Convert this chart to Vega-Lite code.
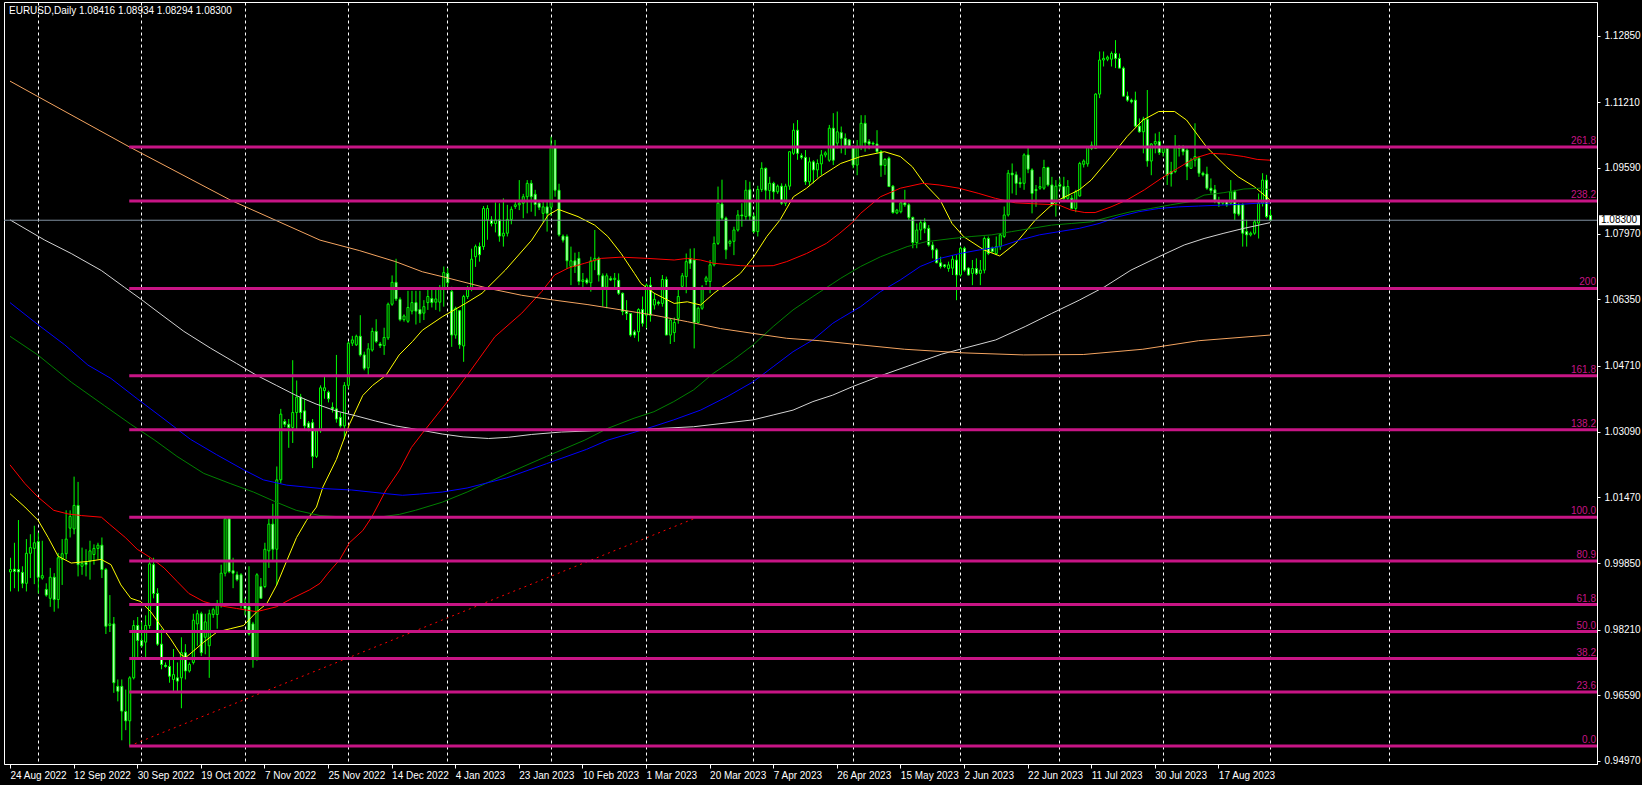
{
"$schema": "https://vega.github.io/schema/vega-lite/v6.json",
"width": 1593, "height": 762,
"autosize": {"type": "none"},
"padding": {"left": 4, "top": 2, "right": 45, "bottom": 21},
"background": "black",
"config": {"view": {"stroke": "white", "strokeWidth": 1}, "font": "Liberation Sans"},
"datasets": {
"bars": [
{"i":0,"o":0.9963,"h":0.9998,"l":0.9915,"c":0.9969},{"i":1,"o":0.9970,"h":1.0035,"l":0.9923,"c":0.9964},{"i":2,"o":0.9969,"h":1.0091,"l":0.9915,"c":0.9963},{"i":3,"o":0.9962,"h":0.9977,"l":0.9923,"c":0.9935},{"i":4,"o":0.9935,"h":1.0044,"l":0.9915,"c":1.0009},{"i":5,"o":1.0009,"h":1.0056,"l":0.9948,"c":1.0023},{"i":6,"o":1.0021,"h":1.0077,"l":0.9933,"c":1.0035},{"i":7,"o":1.0038,"h":1.0060,"l":0.9910,"c":0.9950},{"i":8,"o":0.9948,"h":1.0040,"l":0.9944,"c":0.9954},{"i":9,"o":0.9920,"h":0.9935,"l":0.9902,"c":0.9906},
{"i":10,"o":0.9898,"h":0.9973,"l":0.9877,"c":0.9950},{"i":11,"o":0.9950,"h":0.9960,"l":0.9865,"c":0.9895},{"i":12,"o":0.9895,"h":1.0010,"l":0.9873,"c":0.9998},{"i":13,"o":0.9994,"h":1.0044,"l":0.9931,"c":1.0008},{"i":14,"o":1.0008,"h":1.0115,"l":0.9994,"c":1.0044},{"i":15,"o":1.0071,"h":1.0115,"l":1.0048,"c":1.0100},{"i":16,"o":1.0069,"h":1.0198,"l":1.0056,"c":1.0127},{"i":17,"o":1.0127,"h":1.0185,"l":0.9952,"c":0.9981},{"i":18,"o":0.9977,"h":1.0023,"l":0.9956,"c":0.9984},{"i":19,"o":0.9987,"h":1.0019,"l":0.9952,"c":0.9981},
{"i":20,"o":0.9990,"h":1.0040,"l":0.9944,"c":1.0015},{"i":21,"o":1.0006,"h":1.0031,"l":0.9981,"c":1.0021},{"i":22,"o":1.0021,"h":1.0035,"l":0.9994,"c":1.0029},{"i":23,"o":1.0029,"h":1.0048,"l":0.9948,"c":0.9969},{"i":24,"o":0.9969,"h":0.9973,"l":0.9810,"c":0.9829},{"i":25,"o":0.9831,"h":0.9906,"l":0.9815,"c":0.9835},{"i":26,"o":0.9835,"h":0.9852,"l":0.9665,"c":0.9690},{"i":27,"o":0.9681,"h":0.9698,"l":0.9644,"c":0.9669},{"i":28,"o":0.9681,"h":0.9698,"l":0.9548,"c":0.9620},{"i":29,"o":0.9619,"h":0.9673,"l":0.9573,"c":0.9596},
{"i":30,"o":0.9596,"h":0.9706,"l":0.9534,"c":0.9702},{"i":31,"o":0.9702,"h":0.9844,"l":0.9698,"c":0.9831},{"i":32,"o":0.9831,"h":0.9852,"l":0.9752,"c":0.9794},{"i":33,"o":0.9794,"h":0.9840,"l":0.9777,"c":0.9781},{"i":34,"o":0.9790,"h":0.9856,"l":0.9752,"c":0.9831},{"i":35,"o":0.9831,"h":0.9998,"l":0.9823,"c":0.9983},{"i":36,"o":0.9981,"h":0.9998,"l":0.9898,"c":0.9910},{"i":37,"o":0.9910,"h":0.9923,"l":0.9781,"c":0.9785},{"i":38,"o":0.9785,"h":0.9823,"l":0.9723,"c":0.9735},{"i":39,"o":0.9733,"h":0.9740,"l":0.9727,"c":0.9730},
{"i":40,"o":0.9730,"h":0.9748,"l":0.9690,"c":0.9706},{"i":41,"o":0.9698,"h":0.9773,"l":0.9669,"c":0.9710},{"i":42,"o":0.9702,"h":0.9740,"l":0.9665,"c":0.9694},{"i":43,"o":0.9702,"h":0.9802,"l":0.9627,"c":0.9764},{"i":44,"o":0.9764,"h":0.9785,"l":0.9698,"c":0.9719},{"i":45,"o":0.9719,"h":0.9740,"l":0.9715,"c":0.9735},{"i":46,"o":0.9740,"h":0.9860,"l":0.9735,"c":0.9844},{"i":47,"o":0.9835,"h":0.9869,"l":0.9781,"c":0.9860},{"i":48,"o":0.9860,"h":0.9865,"l":0.9756,"c":0.9764},{"i":49,"o":0.9802,"h":0.9860,"l":0.9760,"c":0.9840},
{"i":50,"o":0.9781,"h":0.9870,"l":0.9702,"c":0.9860},{"i":51,"o":0.9858,"h":0.9875,"l":0.9850,"c":0.9870},{"i":52,"o":0.9858,"h":0.9894,"l":0.9823,"c":0.9885},{"i":53,"o":0.9883,"h":0.9981,"l":0.9875,"c":0.9960},{"i":54,"o":0.9960,"h":1.0098,"l":0.9952,"c":1.0094},{"i":55,"o":1.0094,"h":1.0098,"l":0.9960,"c":0.9964},{"i":56,"o":0.9966,"h":0.9998,"l":0.9923,"c":0.9960},{"i":57,"o":0.9956,"h":0.9964,"l":0.9940,"c":0.9944},{"i":58,"o":0.9956,"h":0.9960,"l":0.9873,"c":0.9883},{"i":59,"o":0.9885,"h":0.9898,"l":0.9856,"c":0.9873},
{"i":60,"o":0.9877,"h":0.9977,"l":0.9806,"c":0.9810},{"i":61,"o":0.9835,"h":0.9840,"l":0.9727,"c":0.9748},{"i":62,"o":0.9748,"h":0.9960,"l":0.9744,"c":0.9956},{"i":63,"o":0.9927,"h":0.9948,"l":0.9898,"c":0.9898},{"i":64,"o":0.9927,"h":1.0035,"l":0.9923,"c":1.0019},{"i":65,"o":1.0015,"h":1.0094,"l":0.9973,"c":1.0081},{"i":66,"o":1.0081,"h":1.0131,"l":0.9990,"c":1.0019},{"i":67,"o":1.0019,"h":1.0223,"l":0.9931,"c":1.0190},{"i":68,"o":1.0190,"h":1.0365,"l":1.0181,"c":1.0352},{"i":69,"o":1.0334,"h":1.0340,"l":1.0320,"c":1.0327},
{"i":70,"o":1.0327,"h":1.0340,"l":1.0269,"c":1.0319},{"i":71,"o":1.0319,"h":1.0485,"l":1.0281,"c":1.0356},{"i":72,"o":1.0356,"h":1.0435,"l":1.0315,"c":1.0394},{"i":73,"o":1.0394,"h":1.0402,"l":1.0340,"c":1.0356},{"i":74,"o":1.0360,"h":1.0390,"l":1.0311,"c":1.0323},{"i":75,"o":1.0330,"h":1.0335,"l":1.0310,"c":1.0319},{"i":76,"o":1.0331,"h":1.0340,"l":1.0219,"c":1.0248},{"i":77,"o":1.0248,"h":1.0311,"l":1.0244,"c":1.0311},{"i":78,"o":1.0311,"h":1.0423,"l":1.0306,"c":1.0417},{"i":79,"o":1.0410,"h":1.0448,"l":1.0390,"c":1.0417},
{"i":80,"o":1.0406,"h":1.0410,"l":1.0381,"c":1.0390},{"i":81,"o":1.0369,"h":1.0381,"l":1.0356,"c":1.0365},{"i":82,"o":1.0365,"h":1.0498,"l":1.0331,"c":1.0340},{"i":83,"o":1.0344,"h":1.0356,"l":1.0319,"c":1.0323},{"i":84,"o":1.0323,"h":1.0431,"l":1.0290,"c":1.0423},{"i":85,"o":1.0423,"h":1.0531,"l":1.0415,"c":1.0527},{"i":86,"o":1.0527,"h":1.0545,"l":1.0520,"c":1.0535},{"i":87,"o":1.0523,"h":1.0548,"l":1.0520,"c":1.0544},{"i":88,"o":1.0544,"h":1.0596,"l":1.0494,"c":1.0498},{"i":89,"o":1.0498,"h":1.0506,"l":1.0460,"c":1.0465},
{"i":90,"o":1.0466,"h":1.0527,"l":1.0444,"c":1.0513},{"i":91,"o":1.0510,"h":1.0565,"l":1.0506,"c":1.0556},{"i":92,"o":1.0556,"h":1.0586,"l":1.0527,"c":1.0531},{"i":93,"o":1.0525,"h":1.0530,"l":1.0515,"c":1.0521},{"i":94,"o":1.0521,"h":1.0565,"l":1.0498,"c":1.0541},{"i":95,"o":1.0540,"h":1.0627,"l":1.0535,"c":1.0623},{"i":96,"o":1.0623,"h":1.0694,"l":1.0619,"c":1.0677},{"i":97,"o":1.0677,"h":1.0735,"l":1.0631,"c":1.0636},{"i":98,"o":1.0635,"h":1.0640,"l":1.0581,"c":1.0585},{"i":99,"o":1.0585,"h":1.0598,"l":1.0580,"c":1.0594},
{"i":100,"o":1.0581,"h":1.0656,"l":1.0577,"c":1.0615},{"i":101,"o":1.0606,"h":1.0656,"l":1.0598,"c":1.0627},{"i":102,"o":1.0627,"h":1.0656,"l":1.0573,"c":1.0606},{"i":103,"o":1.0610,"h":1.0656,"l":1.0577,"c":1.0599},{"i":104,"o":1.0601,"h":1.0633,"l":1.0584,"c":1.0617},{"i":105,"o":1.0627,"h":1.0658,"l":1.0609,"c":1.0642},{"i":106,"o":1.0637,"h":1.0660,"l":1.0615,"c":1.0627},{"i":107,"o":1.0628,"h":1.0658,"l":1.0609,"c":1.0636},{"i":108,"o":1.0628,"h":1.0670,"l":1.0605,"c":1.0662},{"i":109,"o":1.0662,"h":1.0716,"l":1.0617,"c":1.0701},
{"i":110,"o":1.0699,"h":1.0712,"l":1.0666,"c":1.0676},{"i":111,"o":1.0654,"h":1.0666,"l":1.0518,"c":1.0547},{"i":112,"o":1.0547,"h":1.0617,"l":1.0538,"c":1.0613},{"i":113,"o":1.0607,"h":1.0609,"l":1.0513,"c":1.0523},{"i":114,"o":1.0520,"h":1.0646,"l":1.0481,"c":1.0642},{"i":115,"o":1.0642,"h":1.0668,"l":1.0636,"c":1.0662},{"i":116,"o":1.0662,"h":1.0760,"l":1.0655,"c":1.0734},{"i":117,"o":1.0740,"h":1.0770,"l":1.0715,"c":1.0765},{"i":118,"o":1.0765,"h":1.0775,"l":1.0728,"c":1.0745},{"i":119,"o":1.0765,"h":1.0865,"l":1.0757,"c":1.0859},
{"i":120,"o":1.0831,"h":1.0867,"l":1.0782,"c":1.0859},{"i":121,"o":1.0831,"h":1.0840,"l":1.0815,"c":1.0822},{"i":122,"o":1.0822,"h":1.0874,"l":1.0800,"c":1.0831},{"i":123,"o":1.0831,"h":1.0872,"l":1.0777,"c":1.0791},{"i":124,"o":1.0791,"h":1.0884,"l":1.0765,"c":1.0798},{"i":125,"o":1.0798,"h":1.0868,"l":1.0790,"c":1.0832},{"i":126,"o":1.0832,"h":1.0864,"l":1.0820,"c":1.0857},{"i":127,"o":1.0864,"h":1.0875,"l":1.0858,"c":1.0868},{"i":128,"o":1.0868,"h":1.0929,"l":1.0855,"c":1.0872},{"i":129,"o":1.0872,"h":1.0895,"l":1.0835,"c":1.0888},
{"i":130,"o":1.0888,"h":1.0929,"l":1.0847,"c":1.0921},{"i":131,"o":1.0921,"h":1.0929,"l":1.0851,"c":1.0888},{"i":132,"o":1.0894,"h":1.0905,"l":1.0840,"c":1.0869},{"i":133,"o":1.0872,"h":1.0880,"l":1.0855,"c":1.0862},{"i":134,"o":1.0847,"h":1.0880,"l":1.0826,"c":1.0863},{"i":135,"o":1.0863,"h":1.0880,"l":1.0802,"c":1.0847},{"i":136,"o":1.0862,"h":1.1036,"l":1.0840,"c":1.1011},{"i":137,"o":1.1011,"h":1.1028,"l":1.0888,"c":1.0904},{"i":138,"o":1.0904,"h":1.0920,"l":1.0790,"c":1.0794},{"i":139,"o":1.0791,"h":1.0795,"l":1.0775,"c":1.0781},
{"i":140,"o":1.0790,"h":1.0795,"l":1.0710,"c":1.0730},{"i":141,"o":1.0716,"h":1.0765,"l":1.0670,"c":1.0730},{"i":142,"o":1.0730,"h":1.0750,"l":1.0700,"c":1.0716},{"i":143,"o":1.0736,"h":1.0752,"l":1.0670,"c":1.0679},{"i":144,"o":1.0679,"h":1.0700,"l":1.0660,"c":1.0683},{"i":145,"o":1.0683,"h":1.0688,"l":1.0672,"c":1.0676},{"i":146,"o":1.0676,"h":1.0740,"l":1.0654,"c":1.0730},{"i":147,"o":1.0730,"h":1.0806,"l":1.0707,"c":1.0736},{"i":148,"o":1.0736,"h":1.0740,"l":1.0679,"c":1.0695},{"i":149,"o":1.0693,"h":1.0699,"l":1.0617,"c":1.0665},
{"i":150,"o":1.0665,"h":1.0699,"l":1.0613,"c":1.0693},{"i":151,"o":1.0686,"h":1.0692,"l":1.0680,"c":1.0683},{"i":152,"o":1.0684,"h":1.0700,"l":1.0660,"c":1.0687},{"i":153,"o":1.0682,"h":1.0699,"l":1.0646,"c":1.0650},{"i":154,"o":1.0650,"h":1.0652,"l":1.0596,"c":1.0605},{"i":155,"o":1.0606,"h":1.0633,"l":1.0584,"c":1.0600},{"i":156,"o":1.0600,"h":1.0600,"l":1.0543,"c":1.0547},{"i":157,"o":1.0555,"h":1.0560,"l":1.0540,"c":1.0547},{"i":158,"o":1.0555,"h":1.0613,"l":1.0531,"c":1.0610},{"i":159,"o":1.0610,"h":1.0642,"l":1.0568,"c":1.0576},
{"i":160,"o":1.0596,"h":1.0674,"l":1.0564,"c":1.0670},{"i":161,"o":1.0670,"h":1.0690,"l":1.0580,"c":1.0596},{"i":162,"o":1.0621,"h":1.0650,"l":1.0610,"c":1.0635},{"i":163,"o":1.0628,"h":1.0632,"l":1.0620,"c":1.0625},{"i":164,"o":1.0625,"h":1.0695,"l":1.0617,"c":1.0684},{"i":165,"o":1.0684,"h":1.0691,"l":1.0547,"c":1.0547},{"i":166,"o":1.0547,"h":1.0588,"l":1.0525,"c":1.0584},{"i":167,"o":1.0553,"h":1.0590,"l":1.0530,"c":1.0578},{"i":168,"o":1.0588,"h":1.0660,"l":1.0575,"c":1.0642},{"i":169,"o":1.0667,"h":1.0700,"l":1.0660,"c":1.0693},
{"i":170,"o":1.0691,"h":1.0748,"l":1.0650,"c":1.0728},{"i":171,"o":1.0736,"h":1.0760,"l":1.0710,"c":1.0724},{"i":172,"o":1.0732,"h":1.0761,"l":1.0514,"c":1.0578},{"i":173,"o":1.0578,"h":1.0617,"l":1.0576,"c":1.0613},{"i":174,"o":1.0613,"h":1.0670,"l":1.0609,"c":1.0665},{"i":175,"o":1.0679,"h":1.0693,"l":1.0670,"c":1.0688},{"i":176,"o":1.0679,"h":1.0732,"l":1.0650,"c":1.0720},{"i":177,"o":1.0720,"h":1.0790,"l":1.0716,"c":1.0773},{"i":178,"o":1.0773,"h":1.0913,"l":1.0769,"c":1.0872},{"i":179,"o":1.0870,"h":1.0930,"l":1.0830,"c":1.0835},
{"i":180,"o":1.0835,"h":1.0839,"l":1.0734,"c":1.0757},{"i":181,"o":1.0773,"h":1.0782,"l":1.0765,"c":1.0778},{"i":182,"o":1.0778,"h":1.0814,"l":1.0744,"c":1.0806},{"i":183,"o":1.0806,"h":1.0855,"l":1.0802,"c":1.0843},{"i":184,"o":1.0843,"h":1.0872,"l":1.0814,"c":1.0841},{"i":185,"o":1.0839,"h":1.0929,"l":1.0831,"c":1.0904},{"i":186,"o":1.0905,"h":1.0925,"l":1.0830,"c":1.0840},{"i":187,"o":1.0840,"h":1.0847,"l":1.0798,"c":1.0802},{"i":188,"o":1.0802,"h":1.0915,"l":1.0790,"c":1.0906},{"i":189,"o":1.0906,"h":1.0973,"l":1.0900,"c":1.0958},
{"i":190,"o":1.0958,"h":1.0960,"l":1.0880,"c":1.0904},{"i":191,"o":1.0903,"h":1.0937,"l":1.0880,"c":1.0921},{"i":192,"o":1.0921,"h":1.0925,"l":1.0880,"c":1.0900},{"i":193,"o":1.0900,"h":1.0918,"l":1.0895,"c":1.0914},{"i":194,"o":1.0914,"h":1.0921,"l":1.0868,"c":1.0872},{"i":195,"o":1.0872,"h":1.0920,"l":1.0865,"c":1.0914},{"i":196,"o":1.0914,"h":1.1000,"l":1.0905,"c":1.0999},{"i":197,"o":1.0995,"h":1.1069,"l":1.0991,"c":1.1052},{"i":198,"o":1.1052,"h":1.1077,"l":1.0979,"c":1.0995},{"i":199,"o":1.0989,"h":1.0995,"l":1.0980,"c":1.0985},
{"i":200,"o":1.0985,"h":1.1003,"l":1.0917,"c":1.0925},{"i":201,"o":1.0925,"h":1.0985,"l":1.0915,"c":1.0974},{"i":202,"o":1.0974,"h":1.0978,"l":1.0921,"c":1.0954},{"i":203,"o":1.0954,"h":1.0980,"l":1.0935,"c":1.0970},{"i":204,"o":1.0969,"h":1.1003,"l":1.0942,"c":1.0991},{"i":205,"o":1.0991,"h":1.1000,"l":1.0985,"c":1.0996},{"i":206,"o":1.0978,"h":1.1065,"l":1.0974,"c":1.1057},{"i":207,"o":1.1057,"h":1.1094,"l":1.0966,"c":1.0978},{"i":208,"o":1.1020,"h":1.1098,"l":1.1007,"c":1.1048},{"i":209,"o":1.1046,"h":1.1061,"l":1.0995,"c":1.1032},
{"i":210,"o":1.1032,"h":1.1044,"l":1.0991,"c":1.1015},{"i":211,"o":1.1028,"h":1.1030,"l":1.1010,"c":1.1013},{"i":212,"o":1.1011,"h":1.1015,"l":1.0958,"c":1.0966},{"i":213,"o":1.0966,"h":1.1028,"l":1.0941,"c":1.1011},{"i":214,"o":1.1011,"h":1.1089,"l":1.1003,"c":1.1069},{"i":215,"o":1.1069,"h":1.1089,"l":1.0999,"c":1.1021},{"i":216,"o":1.1024,"h":1.1030,"l":1.1005,"c":1.1018},{"i":217,"o":1.1020,"h":1.1024,"l":1.1014,"c":1.1018},{"i":218,"o":1.1018,"h":1.1052,"l":1.0995,"c":1.0999},{"i":219,"o":1.0999,"h":1.1003,"l":1.0937,"c":1.0965},
{"i":220,"o":1.0965,"h":1.0983,"l":1.0942,"c":1.0980},{"i":221,"o":1.0983,"h":1.0987,"l":1.0913,"c":1.0913},{"i":222,"o":1.0914,"h":1.0917,"l":1.0846,"c":1.0849},{"i":223,"o":1.0848,"h":1.0858,"l":1.0845,"c":1.0855},{"i":224,"o":1.0851,"h":1.0876,"l":1.0847,"c":1.0873},{"i":225,"o":1.0873,"h":1.0905,"l":1.0863,"c":1.0868},{"i":226,"o":1.0868,"h":1.0872,"l":1.0831,"c":1.0837},{"i":227,"o":1.0837,"h":1.0839,"l":1.0761,"c":1.0775},{"i":228,"o":1.0775,"h":1.0822,"l":1.0761,"c":1.0806},{"i":229,"o":1.0806,"h":1.0831,"l":1.0781,"c":1.0824},
{"i":230,"o":1.0824,"h":1.0835,"l":1.0798,"c":1.0810},{"i":231,"o":1.0810,"h":1.0818,"l":1.0765,"c":1.0769},{"i":232,"o":1.0769,"h":1.0777,"l":1.0736,"c":1.0757},{"i":233,"o":1.0757,"h":1.0761,"l":1.0724,"c":1.0725},{"i":234,"o":1.0725,"h":1.0740,"l":1.0711,"c":1.0716},{"i":235,"o":1.0720,"h":1.0722,"l":1.0712,"c":1.0716},{"i":236,"o":1.0711,"h":1.0728,"l":1.0703,"c":1.0720},{"i":237,"o":1.0712,"h":1.0744,"l":1.0695,"c":1.0734},{"i":238,"o":1.0732,"h":1.0744,"l":1.0633,"c":1.0695},{"i":239,"o":1.0695,"h":1.0765,"l":1.0691,"c":1.0761},
{"i":240,"o":1.0761,"h":1.0765,"l":1.0703,"c":1.0707},{"i":241,"o":1.0712,"h":1.0714,"l":1.0694,"c":1.0695},{"i":242,"o":1.0699,"h":1.0732,"l":1.0670,"c":1.0711},{"i":243,"o":1.0711,"h":1.0736,"l":1.0695,"c":1.0699},{"i":244,"o":1.0699,"h":1.0732,"l":1.0670,"c":1.0707},{"i":245,"o":1.0707,"h":1.0790,"l":1.0699,"c":1.0785},{"i":246,"o":1.0785,"h":1.0790,"l":1.0744,"c":1.0748},{"i":247,"o":1.0761,"h":1.0765,"l":1.0750,"c":1.0753},{"i":248,"o":1.0748,"h":1.0790,"l":1.0744,"c":1.0765},{"i":249,"o":1.0765,"h":1.0798,"l":1.0757,"c":1.0794},
{"i":250,"o":1.0790,"h":1.0864,"l":1.0786,"c":1.0843},{"i":251,"o":1.0843,"h":1.0954,"l":1.0839,"c":1.0946},{"i":252,"o":1.0946,"h":1.0970,"l":1.0896,"c":1.0942},{"i":253,"o":1.0942,"h":1.0950,"l":1.0892,"c":1.0921},{"i":254,"o":1.0923,"h":1.0935,"l":1.0910,"c":1.0920},{"i":255,"o":1.0921,"h":1.0995,"l":1.0905,"c":1.0991},{"i":256,"o":1.0991,"h":1.1011,"l":1.0946,"c":1.0956},{"i":257,"o":1.0954,"h":1.0958,"l":1.0847,"c":1.0896},{"i":258,"o":1.0906,"h":1.0917,"l":1.0863,"c":1.0903},{"i":259,"o":1.0909,"h":1.0937,"l":1.0905,"c":1.0913},
{"i":260,"o":1.0909,"h":1.0979,"l":1.0905,"c":1.0960},{"i":261,"o":1.0960,"h":1.0962,"l":1.0913,"c":1.0917},{"i":262,"o":1.0917,"h":1.0937,"l":1.0864,"c":1.0868},{"i":263,"o":1.0872,"h":1.0929,"l":1.0839,"c":1.0914},{"i":264,"o":1.0918,"h":1.0935,"l":1.0905,"c":1.0914},{"i":265,"o":1.0913,"h":1.0937,"l":1.0880,"c":1.0884},{"i":266,"o":1.0884,"h":1.0929,"l":1.0876,"c":1.0913},{"i":267,"o":1.0884,"h":1.0892,"l":1.0857,"c":1.0859},{"i":268,"o":1.0859,"h":1.0905,"l":1.0850,"c":1.0900},{"i":269,"o":1.0890,"h":1.0974,"l":1.0888,"c":1.0970},
{"i":270,"o":1.0968,"h":1.0980,"l":1.0960,"c":1.0976},{"i":271,"o":1.0969,"h":1.1013,"l":1.0962,"c":1.1011},{"i":272,"o":1.1007,"h":1.1024,"l":1.1003,"c":1.1015},{"i":273,"o":1.1007,"h":1.1143,"l":1.1007,"c":1.1141},{"i":274,"o":1.1141,"h":1.1246,"l":1.1131,"c":1.1225},{"i":275,"o":1.1225,"h":1.1246,"l":1.1209,"c":1.1229},{"i":276,"o":1.1227,"h":1.1236,"l":1.1222,"c":1.1232},{"i":277,"o":1.1227,"h":1.1246,"l":1.1209,"c":1.1241},{"i":278,"o":1.1241,"h":1.1274,"l":1.1205,"c":1.1229},{"i":279,"o":1.1229,"h":1.1241,"l":1.1205,"c":1.1205},
{"i":280,"o":1.1205,"h":1.1209,"l":1.1135,"c":1.1136},{"i":281,"o":1.1136,"h":1.1147,"l":1.1122,"c":1.1126},{"i":282,"o":1.1126,"h":1.1130,"l":1.1118,"c":1.1122},{"i":283,"o":1.1126,"h":1.1147,"l":1.1061,"c":1.1062},{"i":284,"o":1.1062,"h":1.1081,"l":1.1046,"c":1.1048},{"i":285,"o":1.1048,"h":1.1085,"l":1.0995,"c":1.1079},{"i":286,"o":1.1079,"h":1.1151,"l":1.0962,"c":1.0976},{"i":287,"o":1.0976,"h":1.1020,"l":1.0941,"c":1.1018},{"i":288,"o":1.1018,"h":1.1044,"l":1.0995,"c":1.1024},{"i":289,"o":1.1024,"h":1.1048,"l":1.0991,"c":1.0997},
{"i":290,"o":1.0997,"h":1.1011,"l":1.0987,"c":1.1009},{"i":291,"o":1.1007,"h":1.1011,"l":1.0917,"c":1.0941},{"i":292,"o":1.0950,"h":1.0974,"l":1.0913,"c":1.0944},{"i":293,"o":1.0950,"h":1.1040,"l":1.0946,"c":1.1009},{"i":294,"o":1.1011,"h":1.1015,"l":1.0987,"c":1.1007},{"i":295,"o":1.1007,"h":1.1015,"l":1.0990,"c":1.0999},{"i":296,"o":1.1003,"h":1.1007,"l":1.0929,"c":1.0962},{"i":297,"o":1.0958,"h":1.0983,"l":1.0958,"c":1.0978},{"i":298,"o":1.0978,"h":1.1069,"l":1.0962,"c":1.0987},{"i":299,"o":1.0983,"h":1.0987,"l":1.0937,"c":1.0946},
{"i":300,"o":1.0946,"h":1.0950,"l":1.0938,"c":1.0942},{"i":301,"o":1.0944,"h":1.0962,"l":1.0905,"c":1.0909},{"i":302,"o":1.0909,"h":1.0933,"l":1.0896,"c":1.0903},{"i":303,"o":1.0905,"h":1.0917,"l":1.0872,"c":1.0876},{"i":304,"o":1.0876,"h":1.0888,"l":1.0863,"c":1.0872},{"i":305,"o":1.0872,"h":1.0880,"l":1.0868,"c":1.0876},{"i":306,"o":1.0876,"h":1.0880,"l":1.0863,"c":1.0868},{"i":307,"o":1.0872,"h":1.0929,"l":1.0868,"c":1.0900},{"i":308,"o":1.0900,"h":1.0905,"l":1.0831,"c":1.0847},{"i":309,"o":1.0868,"h":1.0872,"l":1.0840,"c":1.0845},
{"i":310,"o":1.0868,"h":1.0872,"l":1.0765,"c":1.0798},{"i":311,"o":1.0802,"h":1.0831,"l":1.0765,"c":1.0794},{"i":312,"o":1.0794,"h":1.0802,"l":1.0790,"c":1.0798},{"i":313,"o":1.0798,"h":1.0831,"l":1.0794,"c":1.0826},{"i":314,"o":1.0823,"h":1.0896,"l":1.0785,"c":1.0872},{"i":315,"o":1.0872,"h":1.0946,"l":1.0864,"c":1.0929},{"i":316,"o":1.0929,"h":1.0942,"l":1.0835,"c":1.0839},{"i":317,"o":1.0842,"h":1.0855,"l":1.0829,"c":1.0830}
],
"ma": [
{"ma":"yellow","i":0,"v":1.0156},{"ma":"yellow","i":3.75,"v":1.0123},{"ma":"yellow","i":7.1,"v":1.0090},{"ma":"yellow","i":9.6,"v":1.0048},{"ma":"yellow","i":12.1,"v":1.0002},{"ma":"yellow","i":15.4,"v":0.9985},{"ma":"yellow","i":19.6,"v":0.9989},{"ma":"yellow","i":22.9,"v":0.9994},{"ma":"yellow","i":25.4,"v":0.9981},{"ma":"yellow","i":27.9,"v":0.9931},{"ma":"yellow","i":30.4,"v":0.9898},{"ma":"yellow","i":32.9,"v":0.9890},{"ma":"yellow","i":35.4,"v":0.9865},{"ma":"yellow","i":37.9,"v":0.9831},{"ma":"yellow","i":40.4,"v":0.9798},{"ma":"yellow","i":42.9,"v":0.9760},{"ma":"yellow","i":44.2,"v":0.9752},{"ma":"yellow","i":46.25,"v":0.9769},{"ma":"yellow","i":48.75,"v":0.9790},{"ma":"yellow","i":52.1,"v":0.9815},{"ma":"yellow","i":55.4,"v":0.9823},{"ma":"yellow","i":58.75,"v":0.9831},{"ma":"yellow","i":62.1,"v":0.9865},{"ma":"yellow","i":64.6,"v":0.9885},{"ma":"yellow","i":67.1,"v":0.9931},{"ma":"yellow","i":69.6,"v":0.9990},{"ma":"yellow","i":72.1,"v":1.0048},{"ma":"yellow","i":74.6,"v":1.0090},{"ma":"yellow","i":77.1,"v":1.0123},{"ma":"yellow","i":78.75,"v":1.0173},{"ma":"yellow","i":82.1,"v":1.0240},{"ma":"yellow","i":85.4,"v":1.0327},{"ma":"yellow","i":88.75,"v":1.0398},{"ma":"yellow","i":91.25,"v":1.0423},{"ma":"yellow","i":94.6,"v":1.0448},{"ma":"yellow","i":97.9,"v":1.0498},{"ma":"yellow","i":101.25,"v":1.0531},{"ma":"yellow","i":103.75,"v":1.0559},{"ma":"yellow","i":108.75,"v":1.0592},{"ma":"yellow","i":114.6,"v":1.0625},{"ma":"yellow","i":118.75,"v":1.0650},{"ma":"yellow","i":124.6,"v":1.0707},{"ma":"yellow","i":131.25,"v":1.0781},{"ma":"yellow","i":135.4,"v":1.0843},{"ma":"yellow","i":137.9,"v":1.0857},{"ma":"yellow","i":142.9,"v":1.0839},{"ma":"yellow","i":147.1,"v":1.0818},{"ma":"yellow","i":150.4,"v":1.0790},{"ma":"yellow","i":153.75,"v":1.0748},{"ma":"yellow","i":157.1,"v":1.0699},{"ma":"yellow","i":158.75,"v":1.0674},{"ma":"yellow","i":162.1,"v":1.0650},{"ma":"yellow","i":167.1,"v":1.0625},{"ma":"yellow","i":170.4,"v":1.0629},{"ma":"yellow","i":173.75,"v":1.0621},{"ma":"yellow","i":177.1,"v":1.0650},{"ma":"yellow","i":180.4,"v":1.0674},{"ma":"yellow","i":183.75,"v":1.0699},{"ma":"yellow","i":187.1,"v":1.0740},{"ma":"yellow","i":190.4,"v":1.0790},{"ma":"yellow","i":193.75,"v":1.0831},{"ma":"yellow","i":197.1,"v":1.0888},{"ma":"yellow","i":200.4,"v":1.0909},{"ma":"yellow","i":203.75,"v":1.0937},{"ma":"yellow","i":207.1,"v":1.0958},{"ma":"yellow","i":209,"v":1.0970},{"ma":"yellow","i":214,"v":1.0987},{"ma":"yellow","i":220,"v":1.0999},{"ma":"yellow","i":224,"v":1.0987},{"ma":"yellow","i":227,"v":1.0962},{"ma":"yellow","i":230,"v":1.0921},{"ma":"yellow","i":234,"v":1.0880},{"ma":"yellow","i":237,"v":1.0822},{"ma":"yellow","i":240,"v":1.0789},{"ma":"yellow","i":245,"v":1.0757},{"ma":"yellow","i":249,"v":1.0742},{"ma":"yellow","i":253,"v":1.0773},{"ma":"yellow","i":258,"v":1.0831},{"ma":"yellow","i":263,"v":1.0876},{"ma":"yellow","i":269,"v":1.0905},{"ma":"yellow","i":272,"v":1.0929},{"ma":"yellow","i":277,"v":1.0987},{"ma":"yellow","i":281,"v":1.1036},{"ma":"yellow","i":285,"v":1.1077},{"ma":"yellow","i":289,"v":1.1098},{"ma":"yellow","i":293,"v":1.1098},{"ma":"yellow","i":296,"v":1.1077},{"ma":"yellow","i":301,"v":1.1011},{"ma":"yellow","i":306,"v":1.0962},{"ma":"yellow","i":309,"v":1.0937},{"ma":"yellow","i":313,"v":1.0913},{"ma":"yellow","i":317,"v":1.0880},
{"ma":"red","i":0,"v":1.0227},{"ma":"red","i":3.75,"v":1.0181},{"ma":"red","i":7,"v":1.0148},{"ma":"red","i":11,"v":1.0115},{"ma":"red","i":14.6,"v":1.0106},{"ma":"red","i":18,"v":1.0102},{"ma":"red","i":23,"v":1.0098},{"ma":"red","i":25,"v":1.0081},{"ma":"red","i":29,"v":1.0048},{"ma":"red","i":32,"v":1.0019},{"ma":"red","i":35.4,"v":0.9998},{"ma":"red","i":38.75,"v":0.9973},{"ma":"red","i":42,"v":0.9940},{"ma":"red","i":45,"v":0.9910},{"ma":"red","i":48.75,"v":0.9890},{"ma":"red","i":52,"v":0.9881},{"ma":"red","i":57,"v":0.9873},{"ma":"red","i":62,"v":0.9865},{"ma":"red","i":67,"v":0.9877},{"ma":"red","i":71,"v":0.9898},{"ma":"red","i":75.4,"v":0.9919},{"ma":"red","i":78,"v":0.9935},{"ma":"red","i":80,"v":0.9960},{"ma":"red","i":83,"v":0.9994},{"ma":"red","i":85.4,"v":1.0035},{"ma":"red","i":88.75,"v":1.0065},{"ma":"red","i":91,"v":1.0098},{"ma":"red","i":94.6,"v":1.0165},{"ma":"red","i":98,"v":1.0214},{"ma":"red","i":101,"v":1.0270},{"ma":"red","i":103.75,"v":1.0305},{"ma":"red","i":110.4,"v":1.0387},{"ma":"red","i":115.4,"v":1.0453},{"ma":"red","i":122,"v":1.0543},{"ma":"red","i":128.75,"v":1.0601},{"ma":"red","i":133.75,"v":1.0654},{"ma":"red","i":137,"v":1.0695},{"ma":"red","i":140.4,"v":1.0712},{"ma":"red","i":144.6,"v":1.0724},{"ma":"red","i":148.75,"v":1.0736},{"ma":"red","i":153.75,"v":1.0739},{"ma":"red","i":160.4,"v":1.0736},{"ma":"red","i":167.1,"v":1.0732},{"ma":"red","i":170.4,"v":1.0736},{"ma":"red","i":173.75,"v":1.0732},{"ma":"red","i":177,"v":1.0724},{"ma":"red","i":183.75,"v":1.0718},{"ma":"red","i":187,"v":1.0717},{"ma":"red","i":192,"v":1.0718},{"ma":"red","i":195.4,"v":1.0728},{"ma":"red","i":200.4,"v":1.0748},{"ma":"red","i":205.4,"v":1.0773},{"ma":"red","i":208.75,"v":1.0798},{"ma":"red","i":212,"v":1.0825},{"ma":"red","i":214,"v":1.0847},{"ma":"red","i":219,"v":1.0888},{"ma":"red","i":224,"v":1.0909},{"ma":"red","i":229.6,"v":1.0921},{"ma":"red","i":233.75,"v":1.0917},{"ma":"red","i":238.75,"v":1.0909},{"ma":"red","i":243.75,"v":1.0896},{"ma":"red","i":247.9,"v":1.0884},{"ma":"red","i":252.9,"v":1.0873},{"ma":"red","i":258.75,"v":1.0870},{"ma":"red","i":263.75,"v":1.0868},{"ma":"red","i":267,"v":1.0855},{"ma":"red","i":270.4,"v":1.0849},{"ma":"red","i":273,"v":1.0849},{"ma":"red","i":277,"v":1.0863},{"ma":"red","i":281,"v":1.0880},{"ma":"red","i":285.4,"v":1.0905},{"ma":"red","i":289.6,"v":1.0933},{"ma":"red","i":293.75,"v":1.0958},{"ma":"red","i":298,"v":1.0983},{"ma":"red","i":302,"v":1.0995},{"ma":"red","i":306,"v":1.0993},{"ma":"red","i":310.4,"v":1.0987},{"ma":"red","i":313.75,"v":1.0980},{"ma":"red","i":317,"v":1.0978},
{"ma":"green","i":0,"v":1.0544},{"ma":"green","i":7,"v":1.0498},{"ma":"green","i":15.4,"v":1.0431},{"ma":"green","i":23.75,"v":1.0373},{"ma":"green","i":30.4,"v":1.0327},{"ma":"green","i":36.25,"v":1.0289},{"ma":"green","i":42,"v":1.0248},{"ma":"green","i":48.75,"v":1.0206},{"ma":"green","i":55.4,"v":1.0181},{"ma":"green","i":61.25,"v":1.0160},{"ma":"green","i":67,"v":1.0135},{"ma":"green","i":72,"v":1.0115},{"ma":"green","i":78,"v":1.0102},{"ma":"green","i":85,"v":1.0098},{"ma":"green","i":92,"v":1.0097},{"ma":"green","i":98,"v":1.0105},{"ma":"green","i":102,"v":1.0115},{"ma":"green","i":108.75,"v":1.0135},{"ma":"green","i":115,"v":1.0160},{"ma":"green","i":125,"v":1.0205},{"ma":"green","i":135,"v":1.0248},{"ma":"green","i":144.6,"v":1.0288},{"ma":"green","i":150.4,"v":1.0317},{"ma":"green","i":157,"v":1.0342},{"ma":"green","i":162,"v":1.0358},{"ma":"green","i":167,"v":1.0383},{"ma":"green","i":172,"v":1.0412},{"ma":"green","i":177,"v":1.0453},{"ma":"green","i":182,"v":1.0486},{"ma":"green","i":187,"v":1.0523},{"ma":"green","i":192,"v":1.0568},{"ma":"green","i":197,"v":1.0609},{"ma":"green","i":202,"v":1.0642},{"ma":"green","i":207,"v":1.0674},{"ma":"green","i":209,"v":1.0687},{"ma":"green","i":214,"v":1.0716},{"ma":"green","i":219,"v":1.0740},{"ma":"green","i":225.7,"v":1.0765},{"ma":"green","i":230.4,"v":1.0777},{"ma":"green","i":237,"v":1.0785},{"ma":"green","i":242,"v":1.0790},{"ma":"green","i":247,"v":1.0794},{"ma":"green","i":252,"v":1.0802},{"ma":"green","i":257,"v":1.0810},{"ma":"green","i":262,"v":1.0818},{"ma":"green","i":267,"v":1.0822},{"ma":"green","i":272,"v":1.0826},{"ma":"green","i":277,"v":1.0839},{"ma":"green","i":282,"v":1.0851},{"ma":"green","i":287,"v":1.0859},{"ma":"green","i":292,"v":1.0868},{"ma":"green","i":297,"v":1.0876},{"ma":"green","i":300.4,"v":1.0892},{"ma":"green","i":305.4,"v":1.0898},{"ma":"green","i":310.4,"v":1.0907},{"ma":"green","i":314.6,"v":1.0909},{"ma":"green","i":317,"v":1.0905},
{"ma":"blue","i":0,"v":1.0627},{"ma":"blue","i":7,"v":1.0573},{"ma":"blue","i":13.75,"v":1.0523},{"ma":"blue","i":19.6,"v":1.0473},{"ma":"blue","i":25.4,"v":1.0440},{"ma":"blue","i":32,"v":1.0390},{"ma":"blue","i":38.75,"v":1.0340},{"ma":"blue","i":45.4,"v":1.0290},{"ma":"blue","i":52,"v":1.0252},{"ma":"blue","i":58.75,"v":1.0215},{"ma":"blue","i":63.75,"v":1.0190},{"ma":"blue","i":69.6,"v":1.0177},{"ma":"blue","i":78,"v":1.0169},{"ma":"blue","i":86,"v":1.0165},{"ma":"blue","i":94.6,"v":1.0156},{"ma":"blue","i":98.75,"v":1.0152},{"ma":"blue","i":103,"v":1.0155},{"ma":"blue","i":108.75,"v":1.0160},{"ma":"blue","i":115,"v":1.0170},{"ma":"blue","i":125,"v":1.0195},{"ma":"blue","i":135,"v":1.0230},{"ma":"blue","i":145,"v":1.0265},{"ma":"blue","i":150.4,"v":1.0288},{"ma":"blue","i":160.4,"v":1.0317},{"ma":"blue","i":167,"v":1.0338},{"ma":"blue","i":173.75,"v":1.0362},{"ma":"blue","i":180.4,"v":1.0395},{"ma":"blue","i":187,"v":1.0432},{"ma":"blue","i":192,"v":1.0469},{"ma":"blue","i":197,"v":1.0506},{"ma":"blue","i":202,"v":1.0535},{"ma":"blue","i":207,"v":1.0576},{"ma":"blue","i":209,"v":1.0588},{"ma":"blue","i":214,"v":1.0617},{"ma":"blue","i":219,"v":1.0654},{"ma":"blue","i":224,"v":1.0683},{"ma":"blue","i":229,"v":1.0716},{"ma":"blue","i":234,"v":1.0736},{"ma":"blue","i":239,"v":1.0748},{"ma":"blue","i":244,"v":1.0757},{"ma":"blue","i":249,"v":1.0765},{"ma":"blue","i":254,"v":1.0781},{"ma":"blue","i":259,"v":1.0794},{"ma":"blue","i":264,"v":1.0802},{"ma":"blue","i":269,"v":1.0810},{"ma":"blue","i":274,"v":1.0822},{"ma":"blue","i":279,"v":1.0839},{"ma":"blue","i":284,"v":1.0851},{"ma":"blue","i":289,"v":1.0859},{"ma":"blue","i":294,"v":1.0863},{"ma":"blue","i":299,"v":1.0865},{"ma":"blue","i":304,"v":1.0867},{"ma":"blue","i":309,"v":1.0869},{"ma":"blue","i":314,"v":1.0872},{"ma":"blue","i":317,"v":1.0872},
{"ma":"white","i":0,"v":1.0831},{"ma":"white","i":8.75,"v":1.0781},{"ma":"white","i":15.4,"v":1.0748},{"ma":"white","i":23,"v":1.0706},{"ma":"white","i":28.75,"v":1.0665},{"ma":"white","i":33,"v":1.0635},{"ma":"white","i":38,"v":1.0598},{"ma":"white","i":43.75,"v":1.0556},{"ma":"white","i":50.4,"v":1.0515},{"ma":"white","i":57,"v":1.0477},{"ma":"white","i":62,"v":1.0448},{"ma":"white","i":67,"v":1.0423},{"ma":"white","i":72,"v":1.0398},{"ma":"white","i":77,"v":1.0377},{"ma":"white","i":82,"v":1.0360},{"ma":"white","i":87,"v":1.0348},{"ma":"white","i":92,"v":1.0335},{"ma":"white","i":97,"v":1.0323},{"ma":"white","i":102,"v":1.0315},{"ma":"white","i":108.75,"v":1.0303},{"ma":"white","i":114,"v":1.0296},{"ma":"white","i":120.4,"v":1.0292},{"ma":"white","i":125.4,"v":1.0295},{"ma":"white","i":131.25,"v":1.0302},{"ma":"white","i":138.75,"v":1.0308},{"ma":"white","i":150,"v":1.0312},{"ma":"white","i":160,"v":1.0315},{"ma":"white","i":172,"v":1.0321},{"ma":"white","i":187,"v":1.0338},{"ma":"white","i":192,"v":1.0350},{"ma":"white","i":197,"v":1.0362},{"ma":"white","i":202,"v":1.0383},{"ma":"white","i":207,"v":1.0399},{"ma":"white","i":212,"v":1.0420},{"ma":"white","i":220,"v":1.0450},{"ma":"white","i":234.4,"v":1.0500},{"ma":"white","i":248,"v":1.0535},{"ma":"white","i":255.4,"v":1.0568},{"ma":"white","i":262,"v":1.0600},{"ma":"white","i":269,"v":1.0633},{"ma":"white","i":275.4,"v":1.0666},{"ma":"white","i":282,"v":1.0707},{"ma":"white","i":289,"v":1.0740},{"ma":"white","i":295.4,"v":1.0769},{"ma":"white","i":300.4,"v":1.0785},{"ma":"white","i":305.4,"v":1.0798},{"ma":"white","i":310.4,"v":1.0810},{"ma":"white","i":317,"v":1.0824},
{"ma":"orange","i":0,"v":1.1173},{"ma":"orange","i":7,"v":1.1135},{"ma":"orange","i":30,"v":1.1011},{"ma":"orange","i":55.4,"v":1.0880},{"ma":"orange","i":78,"v":1.0781},{"ma":"orange","i":88,"v":1.0755},{"ma":"orange","i":97,"v":1.0728},{"ma":"orange","i":103.75,"v":1.0703},{"ma":"orange","i":110.4,"v":1.0687},{"ma":"orange","i":120.4,"v":1.0662},{"ma":"orange","i":128.75,"v":1.0645},{"ma":"orange","i":137,"v":1.0633},{"ma":"orange","i":145.4,"v":1.0622},{"ma":"orange","i":153.75,"v":1.0609},{"ma":"orange","i":162,"v":1.0596},{"ma":"orange","i":170.4,"v":1.0580},{"ma":"orange","i":178.75,"v":1.0563},{"ma":"orange","i":187,"v":1.0551},{"ma":"orange","i":195.4,"v":1.0539},{"ma":"orange","i":203.75,"v":1.0533},{"ma":"orange","i":213.75,"v":1.0523},{"ma":"orange","i":225,"v":1.0512},{"ma":"orange","i":240,"v":1.0503},{"ma":"orange","i":255,"v":1.0498},{"ma":"orange","i":270,"v":1.0499},{"ma":"orange","i":285,"v":1.0512},{"ma":"orange","i":299,"v":1.0533},{"ma":"orange","i":317,"v":1.0547}
],
"fib": [
{"lvl":"0.0","p":0.95340},{"lvl":"23.6","p":0.96671},{"lvl":"38.2","p":0.97494},{"lvl":"50.0","p":0.98160},{"lvl":"61.8","p":0.98826},{"lvl":"80.9","p":0.99903},{"lvl":"100.0","p":1.00980},{"lvl":"138.2","p":1.03134},{"lvl":"161.8","p":1.04465},{"lvl":"200","p":1.06620},{"lvl":"238.2","p":1.08774},{"lvl":"261.8","p":1.10106}
],
"trend": [{"i":30,"p":0.9534},{"i":173,"p":1.0098}],
"header": [{"t":"EURUSD,Daily  1.08416 1.08934 1.08294 1.08300"}]
},
"layer": [
{
"data": {"name": "bars"},
"mark": {"type": "rule", "color": "#00FF00", "strokeWidth": 1, "xOffset": 0.5},
"encoding": {
"x": {"field": "i", "type": "quantitative", "title": null, "scale": {"domain": [-0.25, 398], "nice": false, "zero": false},
"axis": {"orient": "bottom", "title": null,
"values": [0,7,16,32,33,48,59,64,80,85,96,110,112,128,136,144,160,176,187,192,208,212,224,239,240,256,264,272,288,290,304,317,347],
"labelExpr": "datum.value % 16 == 0 && datum.value <= 304 ? ['24 Aug 2022','12 Sep 2022','30 Sep 2022','19 Oct 2022','7 Nov 2022','25 Nov 2022','14 Dec 2022','4 Jan 2023','23 Jan 2023','10 Feb 2023','1 Mar 2023','20 Mar 2023','7 Apr 2023','26 Apr 2023','15 May 2023','2 Jun 2023','22 Jun 2023','11 Jul 2023','30 Jul 2023','17 Aug 2023'][datum.value / 16] : ''",
"domain": true, "domainColor": "white", "ticks": true, "tickSize": 4, "tickColor": "white",
"tickOpacity": {"condition": {"test": "datum.value % 16 == 0", "value": 1}, "value": 0},
"grid": true, "gridColor": "white", "gridDash": [3, 3], "gridWidth": 1,
"gridOpacity": {"condition": {"test": "datum.value % 16 != 0 || datum.value == 160", "value": 1}, "value": 0},
"labelColor": "white", "labelFont": "Liberation Sans", "labelFontSize": 10, "labelAlign": "left", "labelBaseline": "top", "labelPadding": 2, "labelDx": -3, "labelOverlap": false, "labelFlush": false, "labelBound": false}},
"y": {"field": "l", "type": "quantitative", "title": null, "scale": {"domain": [0.94896, 1.13680], "nice": false, "zero": false},
"axis": {"orient": "right", "title": null,
"values": [1.1285,1.1203,1.1121,1.1041,1.0959,1.0879,1.0797,1.0715,1.0635,1.0553,1.0471,1.0391,1.0309,1.0229,1.0147,1.0065,0.9985,0.9903,0.9821,0.9741,0.9659,0.9579,0.9497],
"format": ".5f", "domain": true, "domainColor": "white", "ticks": true, "tickSize": 3, "tickColor": "white", "grid": false,
"labelColor": "white", "labelFont": "Liberation Sans", "labelFontSize": 10, "labelPadding": 4, "labelBaseline": "middle", "labelOverlap": false, "labelFlush": false, "labelBound": false}},
"y2": {"field": "h"}
}
},
{
"data": {"name": "bars"},
"mark": {"type": "bar", "width": 2, "stroke": "#00FF00", "strokeWidth": 1, "xOffset": 0.5},
"encoding": {
"x": {"field": "i", "type": "quantitative", "title": null},
"y": {"field": "o", "type": "quantitative", "title": null},
"y2": {"field": "c"},
"fill": {"condition": {"test": "datum.c < datum.o", "value": "white"}, "value": "black"}
}
},
{
"data": {"name": "ma"},
"mark": {"type": "line", "strokeWidth": 1},
"encoding": {
"x": {"field": "i", "type": "quantitative", "title": null},
"y": {"field": "v", "type": "quantitative", "title": null},
"color": {"field": "ma", "type": "nominal", "legend": null, "scale": {"domain": ["orange","white","blue","green","red","yellow"], "range": ["#F4A460","#D3D3D3","#0000FF","#008000","#FF0000","#FFFF00"]}}
}
},
{
"data": {"name": "trend"},
"mark": {"type": "line", "color": "#FF0000", "strokeWidth": 1, "strokeDash": [2, 4]},
"encoding": {
"x": {"field": "i", "type": "quantitative", "title": null},
"y": {"field": "p", "type": "quantitative", "title": null}
}
},
{
"data": {"name": "fib"},
"mark": {"type": "rule", "color": "#C71585", "strokeWidth": 3},
"encoding": {
"x": {"datum": 30, "type": "quantitative", "title": null},
"x2": {"value": "width"},
"y": {"field": "p", "type": "quantitative", "title": null}
}
},
{
"data": {"name": "bars"},
"transform": [{"filter": "datum.i == 317"}],
"mark": {"type": "rule", "color": "#8090A0", "strokeWidth": 1},
"encoding": {
"y": {"field": "c", "type": "quantitative", "title": null}
}
},
{
"data": {"name": "fib"},
"mark": {"type": "text", "color": "#C71585", "align": "right", "baseline": "bottom", "dx": -1, "dy": -1, "font": "Liberation Sans", "fontSize": 10},
"encoding": {
"x": {"value": "width"},
"y": {"field": "p", "type": "quantitative", "title": null},
"text": {"field": "lvl"}
}
},
{
"data": {"name": "bars"},
"transform": [{"filter": "datum.i == 317"}],
"mark": {"type": "rect", "color": "white", "xOffset": 2, "x2Offset": 43, "yOffset": -5, "y2Offset": 5},
"encoding": {
"x": {"value": "width"},
"x2": {"value": "width"},
"y": {"field": "c", "type": "quantitative", "title": null},
"y2": {"field": "c"}
}
},
{
"data": {"name": "bars"},
"transform": [{"filter": "datum.i == 317"}],
"mark": {"type": "text", "color": "black", "align": "left", "baseline": "middle", "dx": 4, "font": "Liberation Sans", "fontSize": 10},
"encoding": {
"x": {"value": "width"},
"y": {"field": "c", "type": "quantitative", "title": null},
"text": {"field": "c", "format": ".5f"}
}
},
{
"data": {"name": "header"},
"mark": {"type": "text", "color": "white", "align": "left", "baseline": "alphabetic", "dx": 5, "dy": 12, "font": "Liberation Sans", "fontSize": 10},
"encoding": {
"x": {"value": 0},
"y": {"value": 0},
"text": {"field": "t"}
}
}
]
}
